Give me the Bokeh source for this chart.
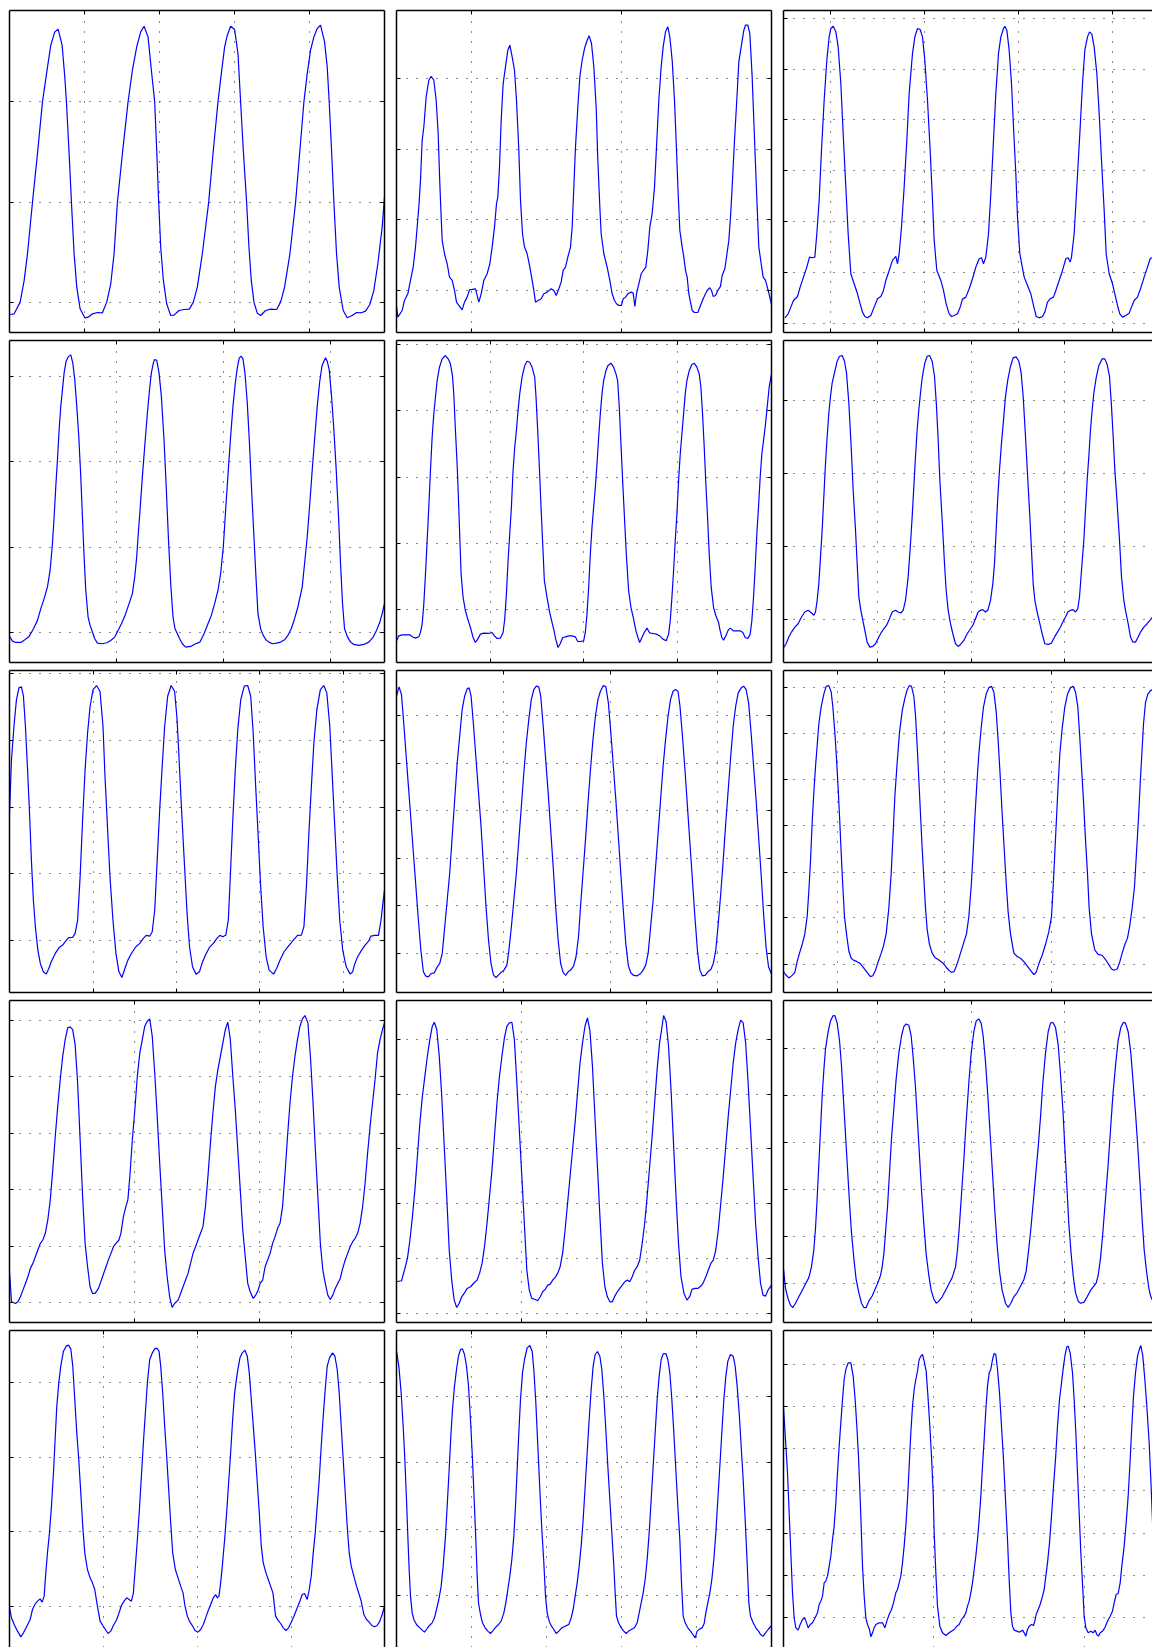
from bokeh.plotting import figure
from bokeh.layouts import gridplot
from bokeh.models import Range1d, LinearAxis, FixedTicker
from bokeh.embed import file_html
from bokeh.resources import INLINE

# ---- waveform samples, one list of (sample, amplitude) per panel (arbitrary units) ----
wave_r1c1 = [(2,54),(14,56),(32,91),(44,156),(54,236),(69,390),(84,536),(99,691),(112,781),(124,861),(136,901),(146,909),(158,861),(166,766),(171,691),(179,536),(186,390),(194,236),(202,136),(212,71),(226,44),(236,46),(249,56),(264,60),(279,59),(292,91),(304,146),(314,236),(324,390),(340,546),(356,691),(369,786),(382,856),(394,901),(404,918),(416,886),(426,786),(436,691),(442,546),(448,390),(454,256),(462,156),(472,86),(484,51),(494,52),(509,66),(524,69),(540,70),(552,91),(564,136),(579,236),(598,390),(612,546),(626,691),(636,776),(646,856),(654,891),(664,918),(676,908),(686,836),(694,691),(702,546),(712,390),(719,256),(726,156),(734,91),(744,58),(754,51),(769,66),(784,70),(802,69),(814,91),(826,136),(842,236),(859,390),(872,546),(884,691),(894,776),(904,846),(914,886),(924,911),(934,921),(946,871),(954,796),(960,691),(967,546),(974,390),(982,236),(990,136),(1002,66),(1014,44),(1029,51),(1042,60),(1056,59),(1069,64),(1082,84),(1094,126),(1106,206),(1119,316),(1126,406)]

wave_r1c2 = [(0,78),(4,46),(17,66),(24,96),(34,116),(42,156),(50,196),(57,256),(62,316),(67,376),(72,456),(77,576),(82,616),(89,706),(97,756),(104,768),(112,756),(119,696),(125,596),(130,446),(134,346),(137,276),(144,236),(152,206),(159,166),(167,156),(174,126),(180,91),(187,81),(197,68),(204,91),(212,106),(219,128),(227,129),(237,131),(247,91),(254,116),(262,156),(272,176),(280,206),(287,256),(294,316),(300,386),(304,406),(309,496),(314,636),(320,746),(327,796),(334,846),(340,861),(347,826),(354,786),(360,696),(367,546),(372,396),(378,296),(384,256),(392,236),(400,196),(407,156),(412,126),(417,91),(425,96),(434,101),(442,116),(452,121),(464,131),(472,126),(479,111),(487,131),(494,151),(500,186),(507,196),(514,226),(522,256),(527,316),(532,436),(537,556),(544,676),(550,766),(557,816),(564,851),(572,876),(578,889),(585,866),(592,796),(599,676),(604,516),(610,376),(614,296),(622,236),(632,196),(640,156),(647,116),(654,96),(660,86),(667,81),(675,81),(680,101),(687,106),(694,116),(704,121),(710,118),(715,78),(720,116),(727,146),(734,176),(742,188),(748,196),(754,246),(760,316),(767,356),(774,436),(780,556),(787,696),(794,796),(800,856),(807,901),(814,916),(820,886),(827,816),(834,696),(840,546),(845,416),(850,306),(857,256),(862,226),(867,186),(872,166),(877,116),(887,66),(894,60),(904,60),(912,81),(920,101),(927,116),(934,128),(940,134),(945,126),(950,108),(957,111),(964,126),(972,138),(977,171),(985,191),(990,226),(997,276),(1002,346),(1007,436),(1014,576),(1022,716),(1027,811),(1034,856),(1042,906),(1047,921),(1054,921),(1060,896),(1067,766),(1075,556),(1082,376),(1087,256),(1094,206),(1100,166),(1107,156),(1115,126),(1125,84)]

wave_r1c3 = [(4,44),(14,56),(22,76),(30,96),(42,108),(50,136),(60,166),(70,196),(78,226),(87,224),(94,226),(100,296),(107,396),(114,546),(122,696),(130,816),(137,886),(142,911),(149,918),(157,901),(164,856),(172,746),(179,596),(187,436),(194,296),(202,176),(212,146),(222,116),(230,86),(237,61),(244,48),(252,44),(262,51),(272,76),(282,101),(292,108),(300,126),(307,156),(317,186),(327,216),(337,228),(342,206),(347,236),(354,316),(362,436),(370,576),(377,716),(387,836),(394,886),(402,911),(410,908),(417,886),(424,816),(432,696),(440,546),(447,396),(452,276),(460,186),(472,156),(480,126),(488,86),(497,56),(504,48),(512,51),(522,56),(530,76),(537,100),(547,106),(557,131),(567,161),(577,196),(587,221),(594,224),(600,206),(607,226),(615,296),(622,416),(630,576),(637,716),(645,836),(652,886),(660,911),(664,918),(670,906),(677,846),(684,746),(690,616),(697,476),(702,346),(709,236),(722,166),(732,141),(742,116),(750,81),(758,48),(767,44),(777,48),(784,61),(792,91),(800,101),(810,106),(817,126),(827,156),(837,186),(847,221),(854,224),(860,211),(864,226),(872,296),(880,436),(889,596),(897,746),(904,846),(912,886),(918,901),(925,894),(932,856),(940,776),(947,656),(954,516),(962,366),(968,236),(977,176),(987,146),(994,116),(1002,81),(1009,56),(1017,46),(1027,51),(1037,58),(1044,76),(1052,96),(1062,106),(1072,134),(1082,166),(1092,196),(1100,221),(1108,226)]

wave_r2c1 = [(0,78),(9,64),(19,60),(34,60),(46,68),(59,78),(72,101),(84,126),(94,161),(104,191),(114,226),(122,276),(129,356),(134,436),(139,526),(144,606),(149,696),(154,766),(159,816),(164,866),(170,901),(176,914),(184,920),(190,896),(196,846),(202,766),(208,676),(214,556),(219,436),(224,316),(229,216),(236,136),(242,111),(249,91),(256,71),(264,58),(279,56),(292,59),(304,66),(316,76),(326,96),(336,116),(346,138),(359,176),(369,206),(376,256),(382,316),(386,376),(392,456),(399,556),(406,646),(414,746),(421,821),(426,866),(432,896),(436,906),(442,904),(449,866),(456,796),(464,666),(471,516),(477,376),(484,236),(491,136),(497,101),(504,86),(511,71),(519,56),(529,46),(544,48),(559,56),(572,61),(584,86),(596,116),(606,141),(616,176),(626,216),(634,266),(642,346),(649,456),(657,576),(664,676),(671,766),(678,836),(684,881),(690,911),(696,916),(701,908),(707,866),(714,776),(721,646),(727,516),(734,376),(740,256),(746,146),(754,101),(762,81),(770,68),(779,61),(789,56),(802,58),(814,61),(826,68),(836,81),(846,101),(856,131),(866,166),(879,226),(886,296),(894,376),(901,466),(909,576),(916,666),(924,766),(931,836),(938,886),(944,901),(949,911),(954,901),(960,876),(967,796),(974,696),(981,576),(988,436),(994,296),(1000,176),(1006,101),(1014,78),(1024,61),(1034,54),(1049,51),(1064,54),(1079,61),(1092,76),(1102,96),(1112,121),(1119,146),(1126,176)]

wave_r2c2 = [(0,65),(7,80),(17,83),(30,83),(40,83),(47,77),(57,73),(67,77),(72,90),(77,115),(82,175),(87,265),(92,365),(97,465),(102,575),(107,675),(112,745),(117,795),(122,845),(129,885),(137,910),(147,920),(155,910),(162,895),(168,860),(172,805),(177,695),(182,595),(187,465),(190,375),(194,265),(200,195),(207,155),(214,130),(222,105),(230,75),(237,60),(244,70),(252,85),(262,88),(277,87),(287,90),(294,80),(302,72),(312,73),(320,90),(325,130),(330,205),(335,305),(340,385),(345,465),(350,575),(355,645),(360,695),(365,755),(370,805),(377,855),(385,890),(392,903),(400,900),(407,885),(415,855),(419,795),(424,695),(429,585),(434,465),(439,355),(444,245),(452,195),(459,155),(467,120),(472,100),(478,70),(485,45),(492,57),(499,75),(507,77),(517,80),(527,80),(537,77),(544,63),(552,63),(562,65),(567,90),(572,145),(577,225),(582,325),(587,405),(592,465),(597,525),(602,595),(607,675),(612,745),(617,805),(622,845),(629,875),(635,890),(644,897),(652,885),(659,865),(664,845),(669,765),(674,655),(679,545),(685,425),(690,325),(697,215),(704,165),(712,130),(719,95),(725,75),(730,60),(737,75),(744,90),(752,103),(760,89),(770,87),(780,85),(790,80),(800,70),(810,65),(817,85),(822,125),(827,195),(832,275),(837,365),(842,445),(847,545),(852,625),(857,685),(862,745),(867,805),(872,845),(879,875),(887,893),(894,897),(902,885),(909,865),(914,825),(919,745),(924,645),(929,535),(934,435),(939,325),(945,225),(952,165),(959,140),(967,120),(972,95),(977,75),(982,67),(989,80),(996,97),(1002,103),(1012,95),(1022,95),(1032,95),(1040,90),(1047,75),(1055,72),(1062,85),(1067,125),(1072,195),(1077,285),(1082,385),(1087,465),(1092,555),(1097,625),(1102,665),(1107,705),(1112,755),(1119,825),(1126,865)]

wave_r2c3 = [(0,44),(8,56),(16,76),(24,91),(34,106),(44,116),(54,136),(64,151),(74,156),(84,148),(91,141),(96,151),(101,186),(106,236),(111,316),(116,396),(121,496),(126,596),(131,676),(136,746),(141,796),(146,836),(154,871),(161,901),(168,916),(176,918),(183,901),(189,866),(196,776),(203,646),(209,516),(216,396),(221,296),(226,196),(232,156),(238,126),(244,96),(251,61),(259,46),(268,48),(276,56),(286,76),(294,91),(301,101),(309,111),(316,126),(326,151),(336,156),(344,151),(352,148),(359,156),(366,186),(374,256),(381,356),(386,436),(391,526),(396,616),(401,696),(406,756),(411,806),(416,851),(424,896),(431,916),(438,918),(446,901),(453,856),(459,766),(464,666),(469,546),(476,426),(483,296),(488,216),(494,156),(501,116),(508,86),(516,56),(524,48),(531,54),(541,66),(551,86),(561,101),(568,111),(576,131),(584,151),(591,156),(598,158),(606,151),(613,156),(621,186),(628,236),(633,296),(638,396),(643,496),(648,576),(654,656),(661,736),(666,796),(673,846),(681,886),(689,911),(698,914),(706,901),(713,866),(719,796),(726,676),(733,546),(739,436),(744,336),(749,236),(754,186),(761,151),(768,121),(776,86),(784,56),(794,54),(804,58),(814,78),(822,91),(831,106),(838,121),(846,136),(853,151),(861,156),(869,158),(876,151),(883,161),(888,196),(894,276),(901,366),(906,456),(911,546),(916,616),(921,696),(926,756),(931,806),(938,851),(946,888),(956,908),(964,908),(971,891),(978,856),(984,766),(989,676),(994,576),(1001,476),(1008,366),(1014,256),(1021,186),(1026,156),(1034,116),(1041,76),(1048,61),(1056,61),(1064,76),(1071,91),(1081,106),(1091,116),(1101,128),(1107,136)]

wave_r3c1 = [(0,537),(4,697),(9,797),(14,877),(19,912),(24,915),(28,887),(32,797),(36,677),(40,547),(44,397),(48,277),(52,197),(57,127),(62,87),(68,62),(74,55),(79,72),(84,92),(92,117),(100,135),(107,142),(112,152),(119,164),(127,165),(132,177),(137,217),(142,347),(147,517),(152,667),(157,777),(162,857),(168,907),(175,919),(182,902),(188,797),(192,647),(197,497),(202,347),(208,217),(214,117),(220,62),(226,45),(232,72),(238,97),(246,119),(254,137),(262,147),(269,162),(275,171),(282,169),(287,182),(292,247),(297,397),(302,547),(307,677),(312,797),(318,887),(325,919),(332,902),(337,817),(342,667),(347,517),(352,377),(357,237),(362,137),(368,77),(375,55),(382,62),(387,87),(394,112),(402,135),(410,147),(417,162),(423,171),(429,167),(435,172),(440,217),(444,347),(449,517),(454,667),(459,787),(465,877),(472,917),(479,919),(485,887),(490,777),(495,617),(500,467),(505,317),(510,197),(516,107),(522,67),(531,55),(537,72),(544,97),(552,122),(560,137),(567,150),(574,162),(579,171),(587,172),(592,197),(597,317),(602,477),(607,617),(612,747),(618,847),(625,907),(632,919),(638,897),(644,797),(649,647),(654,497),(659,347),(664,217),(670,127),(677,77),(685,55),(690,62),(694,85),(700,107),(708,127),(715,142),(722,154),(727,169),(734,171),(742,171),(747,217),(750,257),(754,307)]

wave_r3c2 = [(0,887),(5,915),(10,892),(14,817),(19,717),(24,617),(29,517),(34,417),(39,317),(44,217),(49,127),(54,62),(59,49),(64,47),(70,57),(76,59),(82,77),(87,87),(92,117),(97,197),(102,277),(107,357),(112,467),(117,577),(122,687),(127,767),(132,847),(137,887),(142,909),(146,912),(150,887),(155,797),(160,697),(165,597),(170,497),(175,377),(180,257),(185,157),(190,87),(195,52),(200,45),(205,52),(210,60),(216,67),(222,82),(226,127),(231,197),(236,277),(241,357),(246,457),(251,557),(256,657),(261,747),(266,817),(271,877),(276,907),(281,917),(286,915),(290,887),(295,797),(300,697),(305,597),(310,487),(315,377),(320,257),(325,157),(330,87),(335,60),(340,51),(345,62),(350,67),(356,79),(361,107),(366,167),(370,257),(375,357),(380,457),(385,567),(390,667),(395,757),(400,827),(405,877),(410,902),(416,919),(421,915),(426,867),(431,777),(436,677),(441,577),(446,467),(451,357),(456,247),(461,147),(466,82),(471,59),(477,51),(484,50),(491,57),(496,67),(501,82),(506,117),(511,197),(516,277),(521,377),(526,477),(531,577),(536,677),(541,757),(546,827),(551,877),(556,902),(561,907),(566,902),(570,857),(575,767),(580,667),(585,557),(590,447),(595,337),(600,227),(605,127),(610,67),(615,50),(621,52),(626,62),(632,69),(637,87),(642,127),(647,207),(652,297),(657,397),(662,507),(667,607),(672,707),(677,797),(682,857),(687,897),(693,912),(698,917),(703,907),(708,867),(713,777),(718,677),(723,577),(728,467),(733,357),(738,237),(743,137),(748,77),(754,55)]

wave_r3c3 = [(0,49),(6,42),(16,34),(26,40),(34,47),(41,72),(48,92),(56,112),(64,137),(71,177),(76,237),(81,307),(86,397),(91,467),(96,527),(101,577),(106,627),(113,667),(121,697),(128,715),(136,717),(143,702),(148,667),(154,607),(159,547),(164,477),(169,397),(173,327),(178,247),(183,177),(189,137),(196,97),(203,80),(211,75),(221,72),(231,67),(241,57),(251,47),(261,37),(268,39),(276,52),(284,72),(292,89),(300,109),(308,137),(316,197),(323,277),(328,357),(334,457),(341,537),(348,607),(356,657),(364,687),(371,707),(378,717),(384,715),(391,692),(396,647),(401,577),(406,497),(411,417),(416,337),(421,267),(426,197),(431,147),(438,112),(446,92),(454,82),(464,77),(473,72),(481,67),(488,59),(496,52),(504,47),(512,49),(521,67),(531,92),(541,117),(549,137),(556,177),(563,247),(569,327),(574,407),(580,487),(586,557),(593,617),(600,667),(608,697),(616,712),(624,715),(631,702),(638,657),(644,587),(650,507),(656,417),(662,337),(668,257),(674,187),(681,137),(691,92),(701,84),(711,80),(721,72),(728,65),(736,57),(744,49),(751,42),(758,47),(766,67),(776,87),(786,112),(796,142),(804,177),(809,247),(814,327),(819,407),(824,487),(829,557),(836,617),(844,667),(852,697),(861,712),(869,715),(876,702),(883,667),(888,607),(894,527),(900,447),(906,357),(912,277),(917,197),(924,137),(934,99),(944,89),(956,87),(966,77),(976,65),(984,55),(991,52),(1001,55),(1009,72),(1016,92),(1024,112),(1032,127),(1039,157),(1046,197),(1053,247),(1059,327),(1065,407),(1070,487),(1075,557),(1080,627),(1086,677),(1093,697),(1101,705),(1107,707)]

wave_r4c1 = [(0,152),(4,62),(12,57),(17,62),(22,77),(27,97),(32,117),(37,137),(42,162),(47,177),(52,197),(57,217),(62,237),(67,247),(72,267),(77,307),(82,367),(87,457),(92,557),(97,647),(102,727),(107,797),(112,847),(117,882),(122,885),(127,877),(132,832),(137,717),(142,547),(147,377),(152,237),(157,167),(162,107),(167,87),(172,87),(179,102),(187,137),(194,167),(200,192),(204,207),(209,227),(214,237),(220,247),(224,267),(229,317),(234,347),(238,367),(242,437),(247,547),(252,637),(257,737),(262,807),(267,847),(272,887),(277,902),(282,909),(287,857),(292,747),(297,617),(302,477),(307,347),(312,217),(317,137),(322,77),(327,45),(332,57),(339,67),(344,87),(349,107),(354,127),(359,147),(364,177),(369,207),(374,227),(379,247),(384,267),(389,287),(394,347),(399,437),(404,537),(409,627),(414,707),(419,757),(424,797),(429,837),(434,877),(439,899),(444,847),(449,737),(454,637),(459,517),(464,397),(469,277),(474,197),(479,117),(484,92),(490,72),(495,82),(500,97),(504,117),(509,127),(514,167),(519,187),(524,207),(529,237),(534,257),(539,282),(544,297),(549,347),(554,447),(559,557),(564,657),(569,737),(574,797),(579,847),(584,887),(589,909),(594,919),(600,897),(605,797),(610,667),(615,517),(620,377),(625,237),(630,157),(635,117),(640,82),(645,69),(650,82),(655,102),(660,117),(665,132),(670,162),(675,187),(680,207),(685,227),(690,242),(695,252),(700,267),(705,297),(710,347),(715,417),(720,507),(725,587),(730,657),(735,727),(740,807),(745,847),(750,877),(754,897)]

wave_r4c2 = [(0,122),(10,125),(16,157),(22,192),(27,247),(32,317),(37,397),(42,497),(47,597),(52,677),(57,737),(62,797),(67,847),(72,887),(76,899),(81,877),(86,797),(91,677),(96,527),(101,377),(106,217),(111,127),(116,67),(121,45),(126,57),(131,77),(136,87),(142,102),(149,107),(156,119),(162,127),(167,147),(172,177),(177,227),(182,297),(187,377),(192,457),(197,557),(202,657),(207,737),(212,797),(217,852),(222,887),(227,897),(232,899),(237,847),(242,717),(247,577),(252,437),(257,297),(262,157),(267,97),(272,72),(279,69),(284,65),(289,77),(294,92),(299,99),(304,112),(309,115),(314,127),(319,135),(324,147),(329,167),(334,207),(339,277),(344,357),(349,437),(354,517),(359,597),(364,687),(369,777),(374,837),(379,887),(384,912),(389,872),(394,767),(399,617),(404,467),(409,317),(414,177),(419,107),(424,77),(429,62),(434,62),(439,79),(444,92),(449,102),(454,112),(459,122),(464,127),(469,122),(474,137),(479,157),(484,167),(489,187),(494,237),(499,297),(504,377),(509,467),(514,557),(519,657),(524,757),(529,837),(534,887),(537,919),(542,902),(547,827),(552,697),(557,537),(562,377),(567,237),(572,137),(578,87),(584,67),(590,79),(594,99),(600,102),(606,102),(612,109),(616,117),(622,137),(627,157),(632,177),(637,187),(642,217),(647,277),(652,357),(657,437),(662,527),(667,617),(672,697),(677,777),(682,837),(687,877),(692,905),(697,897),(702,837),(707,717),(712,577),(717,437),(722,297),(727,197),(732,117),(737,82),(742,79),(747,97),(754,112)]

wave_r4c3 = [(0,125),(6,80),(14,55),(21,40),(28,35),(36,45),(46,60),(56,75),(66,90),(76,105),(84,130),(91,170),(96,220),(101,290),(106,370),(111,450),(116,530),(121,590),(126,640),(134,680),(141,705),(148,717),(154,718),(161,700),(168,660),(174,600),(180,520),(186,440),(192,360),(198,280),(204,210),(211,150),(218,100),(226,70),(234,45),(241,35),(248,35),(256,50),(266,62),(276,80),(284,95),(291,110),(296,130),(301,160),(306,210),(312,270),(318,350),(324,430),(331,500),(338,570),(346,630),(354,670),(361,692),(368,698),(376,695),(383,670),(389,620),(396,550),(402,470),(408,390),(414,310),(421,230),(428,160),(436,110),(443,75),(451,55),(458,45),(466,50),(476,60),(486,75),(496,90),(506,105),(516,130),(522,170),(528,230),(534,300),(541,380),(548,470),(556,560),(563,630),(571,680),(578,705),(586,710),(593,700),(599,670),(606,610),(613,530),(620,440),(627,350),(634,260),(641,180),(648,120),(656,75),(666,45),(674,35),(682,45),(691,60),(701,70),(711,85),(721,100),(728,120),(734,160),(741,210),(748,270),(756,340),(764,410),(771,480),(778,560),(786,630),(794,680),(801,700),(808,702),(816,690),(824,650),(831,580),(838,500),(844,410),(850,320),(856,230),(863,160),(869,110),(876,70),(884,50),(891,45),(901,47),(911,60),(921,75),(931,85),(938,92),(944,110),(951,150),(958,210),(966,290),(974,370),(981,450),(988,530),(996,600),(1004,660),(1012,690),(1020,702),(1026,700),(1034,680),(1042,630),(1049,560),(1056,490),(1063,410),(1070,320),(1076,240),(1082,170),(1089,120),(1096,80),(1102,60),(1107,52)]

wave_r5c1 = [(0,116),(6,86),(14,66),(24,46),(34,29),(42,41),(52,61),(62,81),(69,111),(76,126),(84,136),(92,143),(98,133),(104,151),(109,221),(114,281),(120,341),(126,421),(132,521),(137,621),(142,721),(148,791),(154,841),(162,886),(170,901),(177,904),(184,893),(190,841),(196,741),(202,641),(208,561),(214,461),(220,361),(226,281),(234,231),(242,206),(249,191),(256,171),(264,121),(272,76),(280,63),(288,51),(296,39),(304,46),(312,63),(322,81),(329,101),(336,123),(344,136),(352,146),(359,141),(366,136),(372,161),(378,241),(384,321),(390,411),(396,511),(402,611),(408,701),(414,791),(421,861),(429,881),(436,893),(442,895),(449,886),(454,841),(460,761),(466,661),(472,571),(478,471),(484,371),(490,281),(498,231),(506,206),(514,181),(521,161),(527,121),(534,91),(542,73),(550,61),(557,48),(566,43),(574,51),(582,66),(589,86),(596,106),(604,126),(612,146),(619,156),(624,146),(629,151),(634,191),(639,241),(646,321),(652,401),(658,491),(664,581),(670,681),(676,761),(684,821),(692,866),(699,881),(707,889),(714,871),(720,821),(726,741),(732,661),(738,581),(744,491),(750,401),(756,301),(762,251),(770,221),(777,201),(784,181),(791,161),(799,91),(806,79),(814,69),(822,56),(830,48),(838,56),(846,73),(854,91),(862,111),(870,131),(879,156),(886,159),(894,141),(900,171),(906,211),(912,281),(918,341),(924,421),(930,501),(936,601),(942,691),(948,771),(954,841),(961,866),(970,881),(977,871),(984,831),(990,761),(996,661),(1002,561),(1008,461),(1014,361),(1020,281),(1026,241),(1034,211),(1042,181),(1050,156),(1056,136),(1064,96),(1072,81),(1080,73),(1088,63),(1096,59),(1104,63),(1112,76),(1119,96),(1126,121)]

wave_r5c2 = [(0,886),(7,841),(14,761),(20,661),(25,561),(30,441),(34,331),(38,231),(42,151),(47,101),(52,81),(60,66),(70,56),(77,49),(84,43),(90,51),(97,61),(107,71),(114,86),(120,111),(127,141),(134,181),(140,241),(147,331),(152,421),(158,531),(163,631),(168,711),(174,781),(180,831),(186,871),(192,891),(198,893),(204,876),(210,841),(216,781),(222,681),(228,561),(233,441),(238,321),(242,211),(246,131),(252,96),(258,71),(266,56),(274,46),(282,39),(288,46),(296,56),(306,66),(314,76),(322,101),(328,131),(334,171),(340,211),(346,261),(352,331),(357,421),(362,531),(367,641),(372,741),(378,821),(384,861),(392,896),(400,903),(407,886),(412,831),(418,731),(424,601),(430,471),(436,351),(442,251),(447,151),(452,101),(458,76),(465,61),(472,51),(479,39),(487,46),(496,56),(506,61),(517,66),(524,86),(530,111),(536,151),(542,191),(548,241),(554,301),(560,381),(566,481),(572,581),(578,681),(584,771),(590,841),(596,876),(603,885),(610,871),(616,831),(622,751),(628,651),(634,541),(640,441),(646,341),(652,241),(656,161),(660,91),(666,71),(674,56),(682,46),(689,39),(696,46),(704,51),(714,56),(722,71),(728,101),(734,131),(740,161),(746,201),(752,261),(758,341),(764,441),(770,541),(776,641),(782,741),(788,811),(794,861),(800,878),(808,879),(814,861),(820,821),(826,741),(832,641),(838,531),(844,421),(850,321),(855,191),(860,91),(866,71),(874,56),(882,46),(889,36),(896,26),(902,46),(910,53),(917,56),(923,69),(928,101),(934,131),(940,161),(946,201),(952,261),(958,341),(964,441),(970,541),(976,641),(982,741),(988,811),(994,856),(1002,876),(1010,871),(1016,841),(1022,781),(1028,701),(1034,601),(1040,501),(1046,381),(1052,251),(1057,131),(1062,91),(1070,71),(1078,56),(1086,46),(1092,36),(1100,31),(1107,41),(1115,51),(1125,63)]

wave_r5c3 = [(0,716),(6,621),(12,521),(17,401),(22,281),(27,161),(32,86),(37,56),(44,49),(50,66),(57,81),(64,86),(69,71),(74,56),(80,66),(87,71),(92,81),(97,91),(102,101),(107,126),(112,136),(117,151),(122,191),(127,196),(132,211),(137,241),(142,271),(147,321),(152,361),(157,431),(162,521),(167,601),(172,671),(177,741),(182,801),(187,831),(194,851),(202,851),(209,811),(215,741),(220,661),(225,571),(229,471),(233,361),(237,241),(242,151),(247,86),(252,66),(258,51),(262,29),(267,41),(272,56),(277,66),(287,71),(297,71),(304,56),(310,76),(317,96),(324,111),(330,131),(337,161),(342,171),(347,191),(352,211),(357,251),(362,301),(367,361),(372,441),(377,541),(382,641),(387,721),(392,771),(397,801),(402,826),(407,861),(412,871),(417,876),(422,856),(428,826),(434,741),(439,661),(444,571),(449,461),(452,341),(457,221),(462,121),(469,61),(477,41),(487,33),(497,41),(504,46),(512,51),(520,61),(527,66),(534,81),(542,91),(547,101),(552,121),(557,136),(562,161),(567,191),(572,231),(577,271),(582,321),(587,381),(592,451),(597,541),(602,621),(607,711),(612,781),(617,821),(622,831),(627,861),(632,879),(637,876),(642,831),(648,761),(654,661),(660,561),(666,441),(672,321),(677,201),(682,101),(687,61),(692,49),(700,46),(707,43),(712,46),(717,49),(722,41),(727,31),(732,51),(737,61),(744,66),(750,63),(754,76),(758,96),(764,111),(770,126),(777,151),(782,171),(787,211),(792,251),(798,311),(804,391),(810,481),(816,561),(822,661),(828,741),(834,791),(840,841),(845,876),(850,899),(854,901),(860,881),(867,821),(872,741),(877,641),(882,521),(887,401),(892,281),(898,171),(902,91),(907,56),(914,41),(922,46),(929,41),(935,49),(940,36),(945,31),(950,41),(957,46),(964,56),(972,76),(980,91),(987,106),(992,131),(998,156),(1004,159),(1010,191),(1015,241),(1022,301),(1028,371),(1034,451),(1040,561),(1045,661),(1050,751),(1056,821),(1062,871),(1068,893),(1072,903),(1078,871),(1084,801),(1090,721),(1097,611),(1102,501),(1108,351)]

# ---- grid/tick positions per panel (same arbitrary units) ----
xticks_r1 = [[225, 450, 676, 902], [225, 674], [142, 424, 705, 987]]
yticks_r1 = [[89, 390, 691], [127, 338, 549, 760], [28, 180, 333, 486, 638, 789, 941]]
xticks_r2 = [[322, 643, 965], [282, 562, 844], [281, 563, 844]]
yticks_r2 = [[89, 345, 600, 856], [159, 357, 555, 754, 952], [128, 347, 565, 784]]
xticks_r3 = [[168, 335, 503, 671], [216, 431, 646], [161, 483, 804]]
yticks_r3 = [[155, 355, 555, 755, 955], [117, 259, 402, 544, 686, 829], [66, 174, 281, 389, 497, 604, 712]]
xticks_r4 = [[251, 503], [251, 503], [281, 563, 844]]
yticks_r4 = [[60, 229, 398, 567, 735, 904], [28, 192, 356, 520, 684, 847], [91, 201, 311, 421, 531, 641]]
xticks_r5 = [[282, 564, 846], [225, 450, 675, 900], [451, 902]]
yticks_r5 = [[120, 344, 568, 792], [152, 352, 551, 751], [86, 213, 340, 467, 594, 720, 847]]

waves = [
    [wave_r1c1, wave_r1c2, wave_r1c3],
    [wave_r2c1, wave_r2c2, wave_r2c3],
    [wave_r3c1, wave_r3c2, wave_r3c3],
    [wave_r4c1, wave_r4c2, wave_r4c3],
    [wave_r5c1, wave_r5c2, wave_r5c3],
]
xticks = [xticks_r1, xticks_r2, xticks_r3, xticks_r4, xticks_r5]
yticks = [yticks_r1, yticks_r2, yticks_r3, yticks_r4, yticks_r5]

# visible extents of each panel (in its units); right column and bottom row are cut by the page edge
x_extent = [
    [1126, 1125, 1107],
    [1126, 1126, 1107],
    [754, 754, 1107],
    [754, 754, 1107],
    [1126, 1125, 1107],
]
y_extent = [
    [(0, 965), (0, 965), (0, 965)],
    [(0, 963), (0, 965), (0, 963)],
    [(0, 964), (0, 964), (0, 752)],
    [(0, 964), (0, 964), (0, 753)],
    [(-3, 948), (-3, 948), (-3, 948)],
]

# layout (px): the page itself has no margin, so the first column/row carry the 8px offset
COL_W = [395, 387, 370]
COL_LEFT = [9, 1, 1]
COL_RIGHT = [11, 11, 0]
ROW_H = [338, 330, 330, 330, 319]
ROW_TOP = [10, 2, 2, 2, 2]
ROW_BOTTOM = [6, 6, 6, 6, 0]


def make_panel(r, c):
    last_col = c == 2
    last_row = r == 4
    xt = xticks[r][c]
    yt = yticks[r][c]
    p = figure(
        width=COL_W[c], height=ROW_H[r],
        x_range=Range1d(0, x_extent[r][c]),
        y_range=Range1d(*y_extent[r][c]),
        x_axis_location=None, y_axis_location=None,
        toolbar_location=None, output_backend="svg",
        min_border_left=COL_LEFT[c], min_border_right=COL_RIGHT[c],
        min_border_top=ROW_TOP[r], min_border_bottom=ROW_BOTTOM[r],
        outline_line_color=None,
        background_fill_color="white", border_fill_color="white",
    )
    p.xgrid.ticker = FixedTicker(ticks=xt)
    p.ygrid.ticker = FixedTicker(ticks=yt)
    p.grid.grid_line_color = "black"
    p.grid.grid_line_alpha = 0.9
    p.grid.grid_line_width = 1
    p.grid.grid_line_dash = "1 9"

    sides = ["left", "above"]
    if not last_col:
        sides.append("right")
    if not last_row:
        sides.append("below")
    for side in sides:
        tk = FixedTicker(ticks=yt if side in ("left", "right") else xt)
        ax = LinearAxis(
            ticker=tk, axis_line_color="black", axis_line_width=1.5,
            major_tick_in=4, major_tick_out=0, major_tick_line_color="black",
            major_tick_line_width=1, minor_tick_line_color=None,
            major_label_text_font_size="0px", major_label_standoff=0,
            major_label_text_color=None, major_label_text_alpha=0,
        )
        p.add_layout(ax, side)

    pts = waves[r][c]
    xs = [q[0] for q in pts]
    ys = [q[1] for q in pts]
    p.line(xs, ys, line_color="#0000ff", line_width=1.2)
    return p


rows = [[make_panel(r, c) for c in range(3)] for r in range(5)]
grid = gridplot(rows, toolbar_location=None)

open("out.html", "w").write(file_html(grid, INLINE, title="waveforms"))
